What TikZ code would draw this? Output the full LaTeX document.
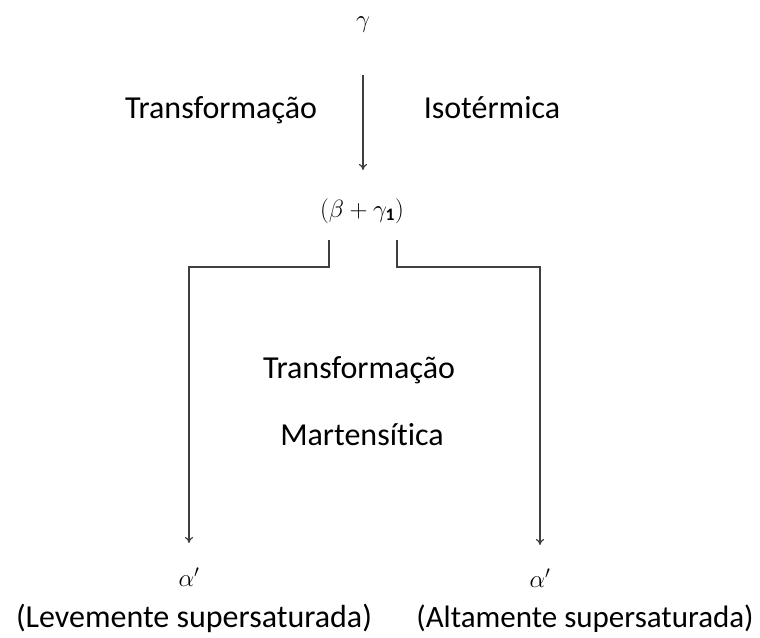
\documentclass[tikz,border=0pt]{standalone}
\usepackage{amsmath}
\usepackage{fontspec}
\setmainfont{Carlito}[Ligatures=NoCommon]
\usetikzlibrary{positioning,arrows.meta}
\tikzset{
  phasearrow/.style={-{To[length=6pt,width=8pt]}, line width=1.2pt, black!75},
  phasenode/.style={inner sep=1pt, font=\fontsize{25}{30}\selectfont},
  labeltext/.style={inner sep=0pt, anchor=base, font=\fontsize{32}{38}\selectfont}
}
\begin{document}
\begin{tikzpicture}[x=1pt, y=-1pt]
  \useasboundingbox (0,0) rectangle (760,637);
  % phases
  \node[phasenode] (gam) at (363,25) {$\gamma$};
  \node[phasenode] (bg) at (362,211) {$(\beta+\gamma_{\mathbf{1}})$};
  \node[phasenode] (a1) at (189,577) {$\alpha'$};
  \node[phasenode] (a2) at (540,578) {$\alpha'$};
  % texts
  \node[labeltext] (iso1) at (221,118) {Transformação};
  \node[labeltext] (iso2) at (492,118) {Isotérmica};
  \node[labeltext] (mart1) at (359,378) {Transformação};
  \node[labeltext] (mart2) at (362,445) {Martensítica};
  \node[labeltext] (lev) at (194,627) {(Levemente supersaturada)};
  \node[labeltext, font=\fontsize{31}{37}\selectfont] (alt) at (585,627) {(Altamente supersaturada)};
  % arrows
  \coordinate (g0) at (363,75);
  \coordinate (bl) at (329,240);
  \coordinate (br) at (397,240);
  \draw[phasearrow] (g0) -- (gam |- 0,170);
  \draw[phasearrow] (bl) -- ++(0,27) -| (a1 |- 0,543);
  \draw[phasearrow] (br) -- ++(0,27) -| (a2 |- 0,545);
\end{tikzpicture}
\end{document}
